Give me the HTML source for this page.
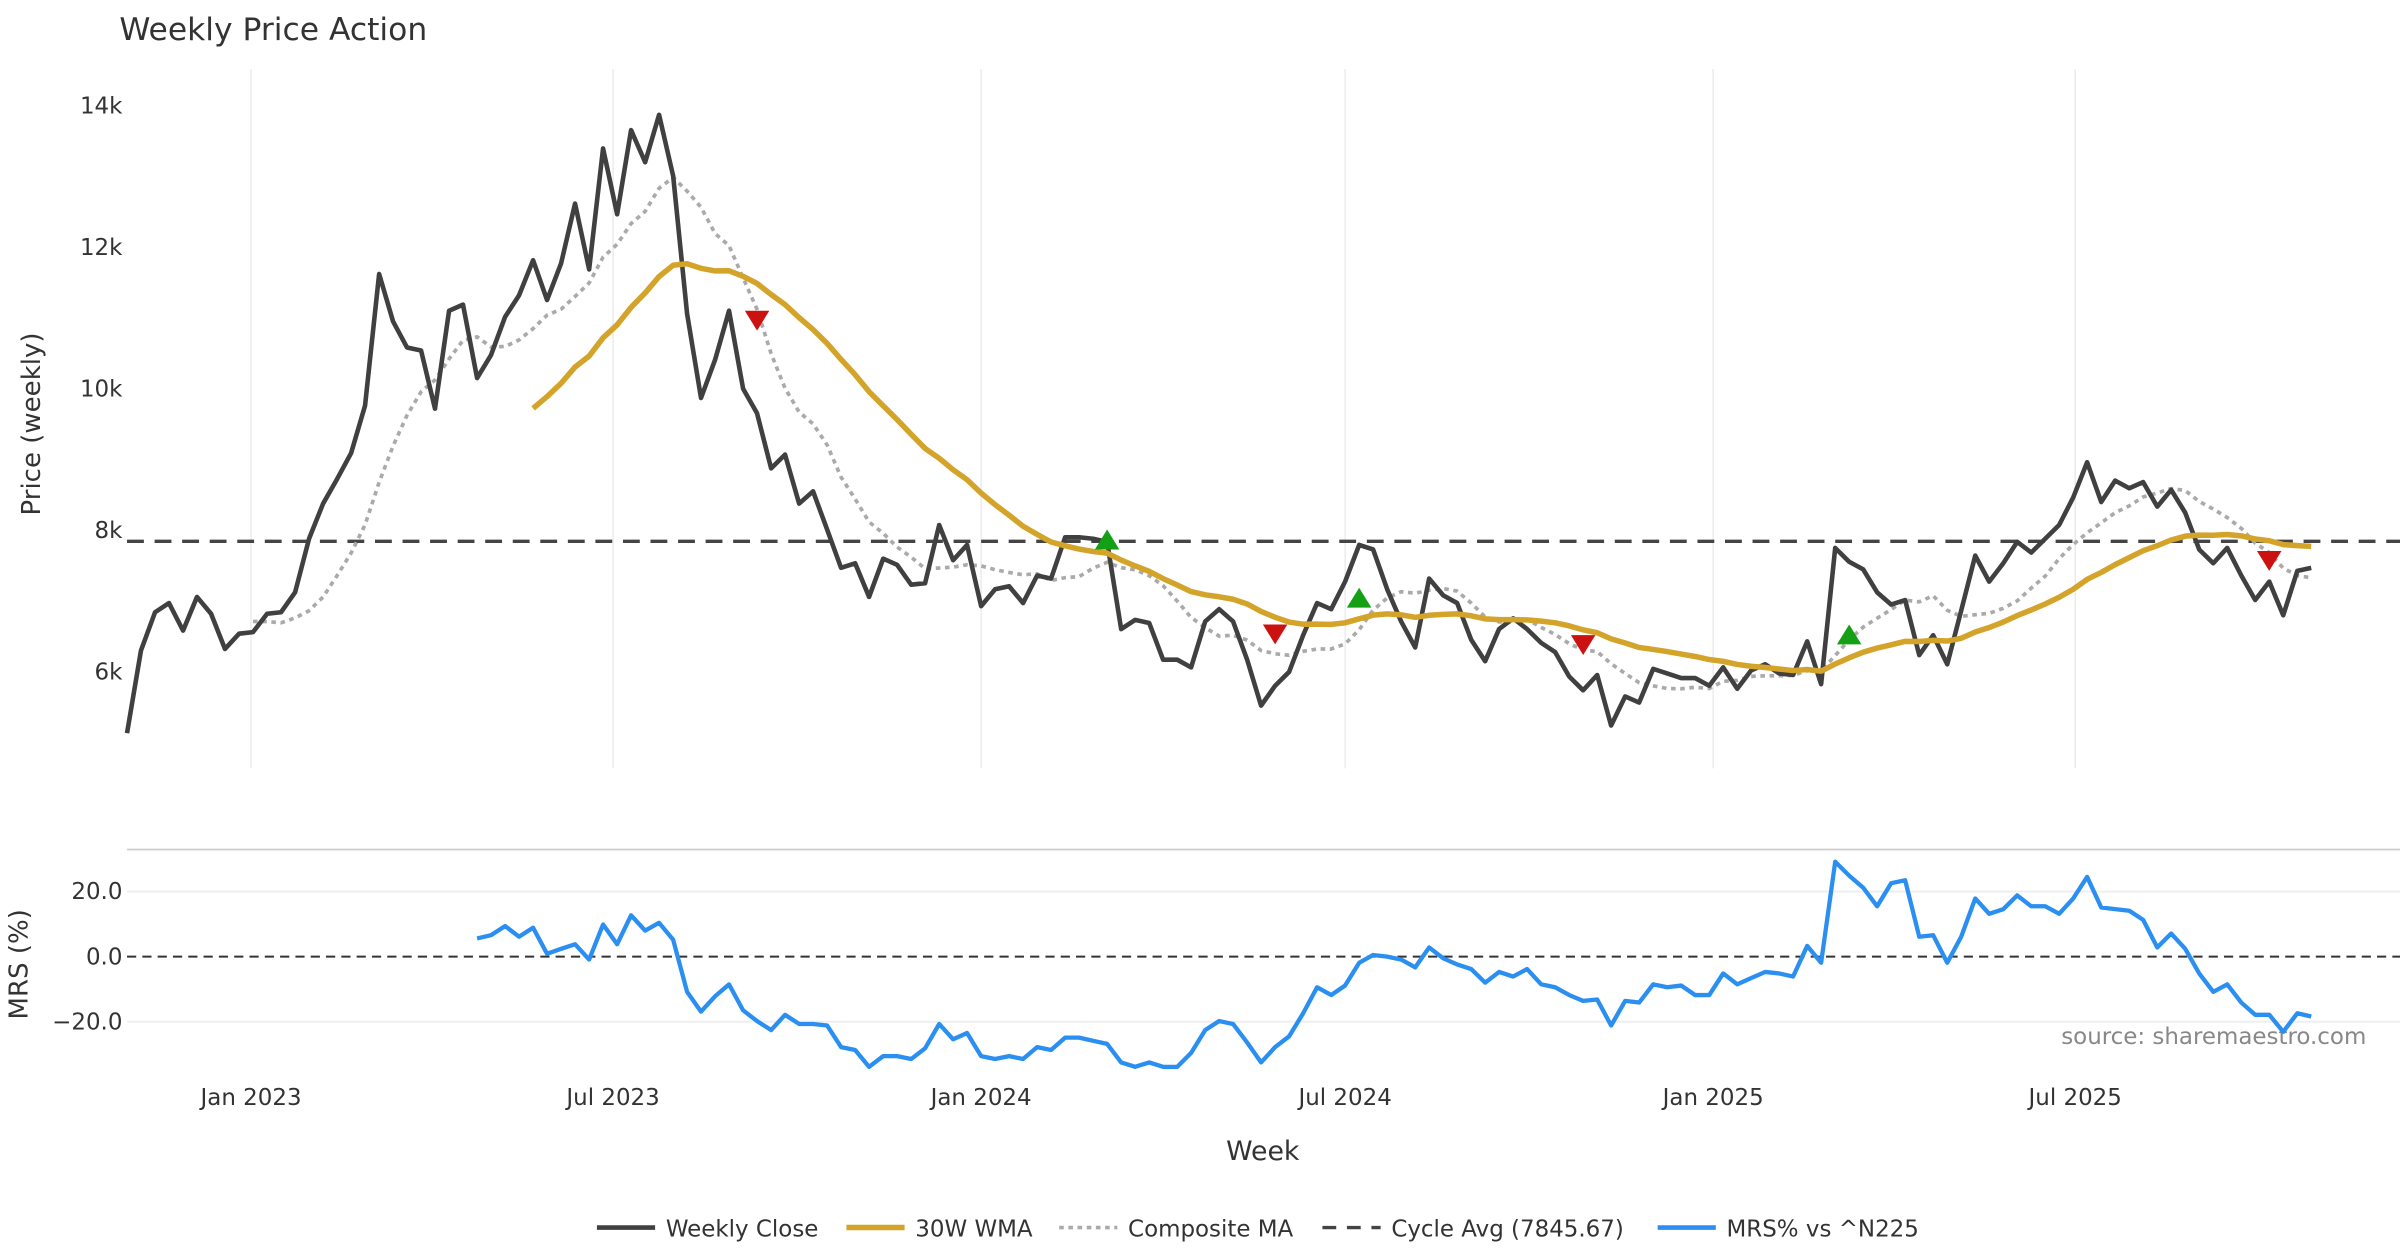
<!DOCTYPE html>
<html><head><meta charset="utf-8">
<style>
html,body{margin:0;padding:0;background:#fff;}
svg{display:block;font-family:"DejaVu Sans","Liberation Sans",sans-serif;}
</style></head>
<body>
<svg id="chart" width="2400" height="1260" viewBox="0 0 1568 823.2" xmlns="http://www.w3.org/2000/svg">
<text x="78" y="26" font-size="20.5" fill="#333">Weekly Price Action</text>
<text transform="translate(26,277) rotate(-90)" text-anchor="middle" font-size="17" fill="#333">Price (weekly)</text>
<text transform="translate(18,630) rotate(-90)" text-anchor="middle" font-size="17" fill="#333">MRS (%)</text>
<text x="825" y="758" text-anchor="middle" font-size="17.5" fill="#333">Week</text>
<text x="1546" y="682" text-anchor="end" font-size="15" fill="#888">source: sharemaestro.com</text>
<g id="grid"></g><g id="axes"></g><g id="series"></g><g id="markers"></g>
<g id="legend"></g>
</svg>
<script>
const closes=[5136,6303,6844,6973,6584,7060,6822,6325,6541,6563,6822,6844,7125,7882,8379,8725,9092,9762,11622,10952,10584,10541,9719,11103,11189,10152,10476,11016,11319,11816,11254,11773,12616,11687,13395,12465,13654,13200,13870,13005,11060,9871,10411,11103,10000,9654,8876,9071,8379,8552,8011,7471,7536,7060,7600,7514,7233,7255,8076,7579,7795,6930,7168,7211,6973,7363,7319,7903,7903,7881,7838,6606,6736,6692,6174,6174,6065,6714,6887,6714,6174,5525,5806,6001,6519,6973,6887,7276,7795,7730,7168,6714,6347,7319,7082,6973,6455,6152,6606,6757,6606,6411,6282,5936,5741,5957,5244,5655,5568,6044,5979,5914,5914,5806,6065,5763,6022,6109,5979,5957,6433,5828,7752,7557,7449,7125,6952,7017,6238,6519,6109,6865,7644,7276,7536,7838,7687,7881,8076,8465,8963,8400,8703,8595,8681,8336,8573,8249,7730,7536,7752,7363,7017,7276,6801,7428,7471];
const mrs=[5.6,6.6,9.4,6.1,8.9,0.9,2.4,3.8,-0.9,9.9,3.8,12.7,8.0,10.4,5.2,-10.8,-16.9,-12.2,-8.5,-16.5,-19.8,-22.6,-17.9,-20.7,-20.7,-21.2,-27.8,-28.7,-33.9,-30.6,-30.6,-31.5,-28.2,-20.7,-25.4,-23.5,-30.6,-31.5,-30.6,-31.5,-27.8,-28.7,-24.9,-24.9,-25.9,-26.8,-32.5,-33.9,-32.5,-33.9,-33.9,-29.6,-22.6,-19.8,-20.7,-26.4,-32.5,-27.8,-24.5,-17.4,-9.4,-11.8,-8.9,-1.9,0.5,0,-0.9,-3.3,2.8,-0.5,-2.4,-3.8,-8.0,-4.7,-6.1,-3.8,-8.5,-9.4,-11.8,-13.6,-13.2,-21.2,-13.6,-14.1,-8.5,-9.4,-8.9,-11.8,-11.8,-5.2,-8.5,-6.6,-4.7,-5.2,-6.1,3.3,-1.9,29.2,24.9,21.2,15.5,22.6,23.5,6.1,6.6,-1.9,6.1,17.9,13.2,14.6,18.8,15.5,15.5,13.2,17.9,24.5,15.1,14.6,14.1,11.3,2.8,7.1,2.4,-5.2,-10.8,-8.5,-14.1,-17.9,-17.9,-23.1,-17.4,-18.4];
const cycleAvg=7845.67;
const sellIdx=[45,82,104,153], sellVal=[10973,6541,6390,7579];
const buyIdx=[70,88,123], buyVal=[7860,7038,6519];
const priceTicks=[6000,8000,10000,12000,14000];
const priceTickLabels=["6k","8k","10k","12k","14k"];
const mrsTicks=[20,0,-20];
const mrsTickLabels=["20.0","0.0","\u221220.0"];
const dateTicks=["2023-01-01","2023-07-01","2024-01-01","2024-07-01","2025-01-01","2025-07-01"];
const dateTickLabels=["Jan 2023","Jul 2023","Jan 2024","Jul 2024","Jan 2025","Jul 2025"];
const startDate="2022-10-31";

const NS="http://www.w3.org/2000/svg";
const N=closes.length;
const X0=83,X1=1510;
const step=(X1-X0)/(N-1);
const x=i=>X0+i*step;
const y=v=>69+(14000-v)*0.04625;
const ym=v=>625-v*2.125;
const xDate=d=>X0+((new Date(d)-new Date(startDate))/(7*864e5))*step;
function mk(tag,attrs,parent){const e=document.createElementNS(NS,tag);for(const k in attrs)e.setAttribute(k,attrs[k]);parent.appendChild(e);return e;}
const G=document.getElementById('grid'),A=document.getElementById('axes'),S=document.getElementById('series'),M=document.getElementById('markers'),L=document.getElementById('legend');

dateTicks.forEach((d,k)=>{
  const xx=xDate(d);
  const g=mk('line',{x1:xx,x2:xx,y1:45,y2:502,stroke:'#ececf0','stroke-width':1},G);
  
  
  const t=mk('text',{x:xx,y:722,'text-anchor':'middle','font-size':15,fill:'#333'},A);
  t.textContent=dateTickLabels[k];
  
  
});
priceTicks.forEach((v,k)=>{
  const t=mk('text',{x:80,y:y(v)+5,'text-anchor':'end','font-size':15,fill:'#333'},A);
  t.textContent=priceTickLabels[k];
  
  
});
const sep=mk('line',{x1:83,x2:1568,y1:555,y2:555,stroke:'#cccccc','stroke-width':1.2},G);


mrsTicks.forEach((v,k)=>{
  if(v!==0){const g=mk('line',{x1:83,x2:1568,y1:ym(v),y2:ym(v),stroke:'#eeeeee','stroke-width':1.2},G);
  
  }
  const t=mk('text',{x:80,y:ym(v)+5,'text-anchor':'end','font-size':15,fill:'#333'},A);
  t.textContent=mrsTickLabels[k];
  
  
});
const zl=mk('line',{x1:83,x2:1568,y1:ym(0),y2:ym(0),stroke:'#333','stroke-width':1.3,'stroke-dasharray':'6,4'},G);



const comp=[],wma=[];
for(let i=0;i<N;i++){
  if(i>=9){let s=0;for(let j=i-7;j<=i;j++)s+=closes[j];comp.push([i,s/8]);}
  if(i>=29){let s=0,w=0;for(let j=i-29;j<=i;j++){const ww=j-(i-29)+1;s+=closes[j]*ww;w+=ww;}wma.push([i,s/w]);}
}
function path(pts,fy){return pts.map((p,k)=>(k?'L':'M')+x(p[0]).toFixed(1)+','+fy(p[1]).toFixed(1)).join(' ');}

const ca=mk('line',{x1:83,x2:1568,y1:y(cycleAvg),y2:y(cycleAvg),stroke:'#444','stroke-width':2.2,'stroke-dasharray':'11,7'},S);


const cp=mk('path',{d:path(comp,y),fill:'none',stroke:'#aaaaaa','stroke-width':2.4,'stroke-dasharray':'3,3'},S);


const cl=mk('path',{d:path(closes.map((v,i)=>[i,v]),y),fill:'none',stroke:'#404040','stroke-width':3,'stroke-linejoin':'round'},S);


const wl=mk('path',{d:path(wma,y),fill:'none',stroke:'#d4a32a','stroke-width':3.6,'stroke-linejoin':'round'},S);


const off=N-mrs.length;
const ml=mk('path',{d:path(mrs.map((v,j)=>[j+off,v]),ym),fill:'none',stroke:'#2a8ff0','stroke-width':2.8,'stroke-linejoin':'round'},S);



sellIdx.forEach((i,k)=>{
  const cx=x(i),cy=y(sellVal[k]);
  const p=mk('polygon',{points:`${cx-8},${cy-6} ${cx+8},${cy-6} ${cx},${cy+7}`,fill:'#cc1111'},M);
  
  
});
buyIdx.forEach((i,k)=>{
  const cx=x(i),cy=y(buyVal[k]);
  const p=mk('polygon',{points:`${cx-8},${cy+6} ${cx+8},${cy+6} ${cx},${cy-7}`,fill:'#14a014'},M);
  
  
});

const leg=[
 {x:390,label:'Weekly Close',stroke:'#404040',w:3,dash:''},
 {x:553,label:'30W WMA',stroke:'#d4a32a',w:3.6,dash:''},
 {x:692,label:'Composite MA',stroke:'#aaaaaa',w:2.4,dash:'3,3'},
 {x:864,label:'Cycle Avg (7845.67)',stroke:'#444',w:2.2,dash:'9,7'},
 {x:1083,label:'MRS% vs ^N225',stroke:'#2a8ff0',w:3,dash:''}];
leg.forEach(o=>{
  const g=mk('g',{},L);
  
  
  mk('line',{x1:o.x,x2:o.x+38,y1:802,y2:802,stroke:o.stroke,'stroke-width':o.w,'stroke-dasharray':o.dash},g);
  const t=mk('text',{x:o.x+45,y:808,'font-size':15,fill:'#333'},g);
  t.textContent=o.label;
});
</script>
</body></html>
